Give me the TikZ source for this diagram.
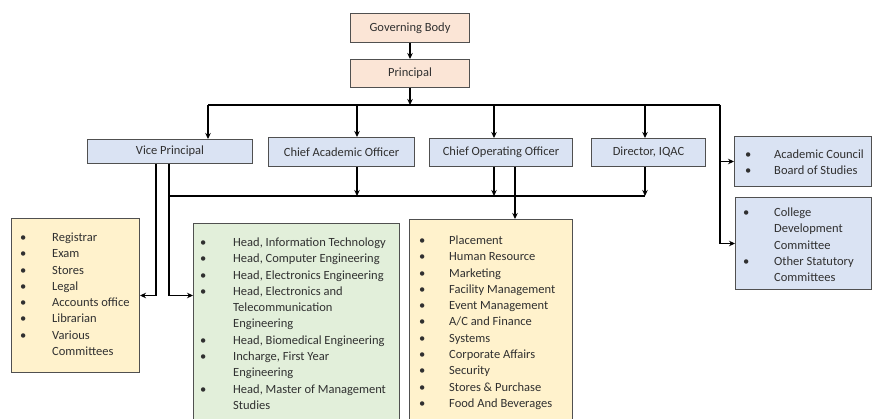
\documentclass[tikz,border=0pt]{standalone}
\usepackage{fontspec}
\setmainfont{Carlito}
\usetikzlibrary{arrows.meta}
\definecolor{peach}{HTML}{FBE5D6}
\definecolor{paleblue}{HTML}{DAE3F3}
\definecolor{paleyellow}{HTML}{FFF2CC}
\definecolor{palegreen}{HTML}{E2EFDA}
\definecolor{boxline}{HTML}{505050}
\definecolor{txt}{HTML}{303030}
\begin{document}
\begin{tikzpicture}[x=1pt,y=-1pt,
  box/.style={draw=boxline, line width=1pt, anchor=north west, inner sep=0pt, text=txt,
    font=\fontsize{12.5}{15}\selectfont},
  lst/.style={anchor=base west, inner sep=0pt, text=txt, font=\fontsize{12.5}{16.3}\selectfont},
  arr/.style={line width=1.5pt, -{Stealth[length=6pt,width=5.5pt]}},
  ln/.style={line width=1.5pt}]
\useasboundingbox (0,0) rectangle (874,419);
% top boxes
\node[box, fill=peach, minimum width=119pt, minimum height=29pt] (gb) at (350,13) {Governing Body};
\node[box, fill=peach, minimum width=119pt, minimum height=28pt] (pr) at (350,59) {Principal};
% second level
\node[box, fill=paleblue, minimum width=165pt, minimum height=24pt] (vp) at (87,139) {Vice Principal};
\node[box, fill=paleblue, minimum width=146pt, minimum height=29pt] (cao) at (268,137) {Chief Academic Officer};
\node[box, fill=paleblue, minimum width=143pt, minimum height=28pt] (coo) at (429,138) {Chief Operating Officer};
\node[box, fill=paleblue, minimum width=114pt, minimum height=28pt] (iqac) at (591,138) {Director, IQAC};
% list boxes
\node[box, fill=paleyellow, minimum width=128pt, minimum height=154pt] (reg) at (11,218) {};
\node[box, fill=palegreen, minimum width=206pt, minimum height=215pt] (grn) at (193,223) {};
\node[box, fill=paleyellow, minimum width=163pt, minimum height=215pt] (ops) at (409,219) {};
\node[box, fill=paleblue, minimum width=137pt, minimum height=50pt] (ac) at (734,136) {};
\node[box, fill=paleblue, minimum width=136pt, minimum height=92pt] (cdc) at (735,197) {};
% list texts
\node[lst] (regT) at (20,241.5) {\begin{tabular}[t]{@{}p{32pt}@{}l@{}}
\textbullet & Registrar\\ \textbullet & Exam\\ \textbullet & Stores\\ \textbullet & Legal\\
\textbullet & Accounts office\\ \textbullet & Librarian\\ \textbullet & Various\\ & Committees
\end{tabular}};
\node[lst] (grnT) at (200,246.5) {\begin{tabular}[t]{@{}p{33pt}@{}l@{}}
\textbullet & Head, Information Technology\\ \textbullet & Head, Computer Engineering\\
\textbullet & Head, Electronics Engineering\\ \textbullet & Head, Electronics and\\
 & Telecommunication\\ & Engineering\\ \textbullet & Head, Biomedical Engineering\\
\textbullet & Incharge, First Year\\ & Engineering\\ \textbullet & Head, Master of Management\\ & Studies
\end{tabular}};
\node[lst] (opsT) at (419,244.5) {\begin{tabular}[t]{@{}p{30pt}@{}l@{}}
\textbullet & Placement\\ \textbullet & Human Resource\\ \textbullet & Marketing\\
\textbullet & Facility Management\\ \textbullet & Event Management\\ \textbullet & A/C and Finance\\
\textbullet & Systems\\ \textbullet & Corporate Affairs\\ \textbullet & Security\\
\textbullet & Stores \& Purchase\\ \textbullet & Food And Beverages
\end{tabular}};
\node[lst] (acT) at (745,158.5) {\begin{tabular}[t]{@{}p{29pt}@{}l@{}}
\textbullet & Academic Council\\ \textbullet & Board of Studies
\end{tabular}};
\node[lst] (cdcT) at (743,216.5) {\begin{tabular}[t]{@{}p{31pt}@{}l@{}}
\textbullet & College\\ & Development\\ & Committee\\ \textbullet & Other Statutory\\ & Committees
\end{tabular}};
% coordinates for connectors
\coordinate (b1L) at (208,105);
\coordinate (b1R) at (720,105);
\coordinate (xcao) at (357,105);
\coordinate (xcoo) at (494,105);
\coordinate (xiq) at (645,105);
\coordinate (v1) at (156,0);
\coordinate (v2) at (169,0);
\coordinate (b2) at (0,196);
\coordinate (xops) at (515,0);
% connectors
\draw[arr] (gb.south) -- (pr.north);
\draw[arr] (pr.south) -- (pr.south |- b1L);
\draw[ln] (b1L) -- (b1R);
\draw[arr] (b1L) -- (b1L |- vp.north);
\draw[arr] (xcao) -- (xcao |- cao.north);
\draw[arr] (xcoo) -- (xcoo |- coo.north);
\draw[arr] (xiq) -- (xiq |- iqac.north);
\draw[arr] (b1R) |- (ac.west);
\draw[arr] (b1R) |- (cdc.west);
\draw[arr] (v1 |- vp.south) |- (reg.east);
\draw[arr] (v2 |- vp.south) |- (grn.west |- reg.east);
\draw[ln] (v2 |- b2) -- (xiq |- b2);
\draw[arr] (xcao |- cao.south) -- (xcao |- b2);
\draw[arr] (xcoo |- coo.south) -- (xcoo |- b2);
\draw[arr] (xiq |- iqac.south) -- (xiq |- b2);
\draw[arr] (xops |- coo.south) -- (xops |- ops.north);
\end{tikzpicture}
\end{document}
